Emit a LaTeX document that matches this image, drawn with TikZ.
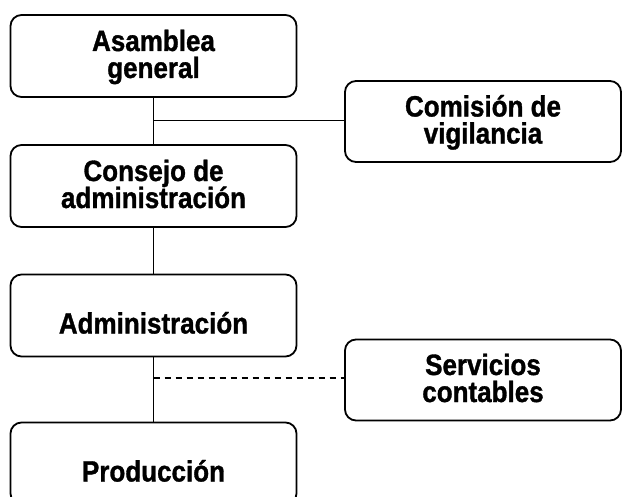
\documentclass[tikz,border=0pt]{standalone}
\usepackage{graphicx}
\usepackage{fontspec}
\setmainfont{Liberation Sans}[BoldFeatures={FakeBold=1.2}]
\newcommand\vstr[1]{\scalebox{1}[1.13]{#1}}
\newcommand\twoln[2]{\makebox[0pt]{\raisebox{5pt}[0pt][0pt]{\vstr{#1}}}\makebox[0pt]{\raisebox{-22pt}[0pt][0pt]{\vstr{#2}}}}
\newcommand\onel[1]{\makebox[0pt]{\raisebox{-18pt}[0pt][0pt]{\vstr{#1}}}}
\begin{document}
\begin{tikzpicture}[x=1pt,y=-1pt,
  orgbox/.style={draw=black,line width=1.8pt,rounded corners=11pt,fill=white,
    minimum width=286pt,minimum height=82pt,inner sep=0pt,
    font=\fontsize{26}{27}\selectfont\bfseries},
  sidebox/.style={orgbox,minimum width=276pt,minimum height=81pt},
  conn/.style={line width=1.6pt},
  dconn/.style={line width=1.6pt,dash pattern=on 6pt off 5pt}]
\useasboundingbox (0,0) rectangle (623,497);
\node[orgbox] (asam) at (153.5,56) {\twoln{Asamblea}{general}};
\node[orgbox] (cons) at (153.5,186) {\twoln{Consejo de}{administración}};
\node[orgbox] (adm) at (153.5,315.5) {\onel{Administración}};
\node[orgbox] (prod) at (153.5,463.5) {\onel{Producción}};
\node[sidebox] (com) at (483,121.5) {\twoln{Comisión de}{vigilancia}};
\node[sidebox] (serv) at (483,380) {\twoln{Servicios}{contables}};
\coordinate (j1) at (153.5,120.5);
\coordinate (j2) at (153.5,378);
\draw[conn] (asam.south) -- (cons.north);
\draw[conn] (j1) -- (j1 -| com.west);
\draw[conn] (cons.south) -- (adm.north);
\draw[conn] (adm.south) -- (prod.north);
\draw[dconn] (j2) -- (j2 -| serv.west);
\end{tikzpicture}
\end{document}
